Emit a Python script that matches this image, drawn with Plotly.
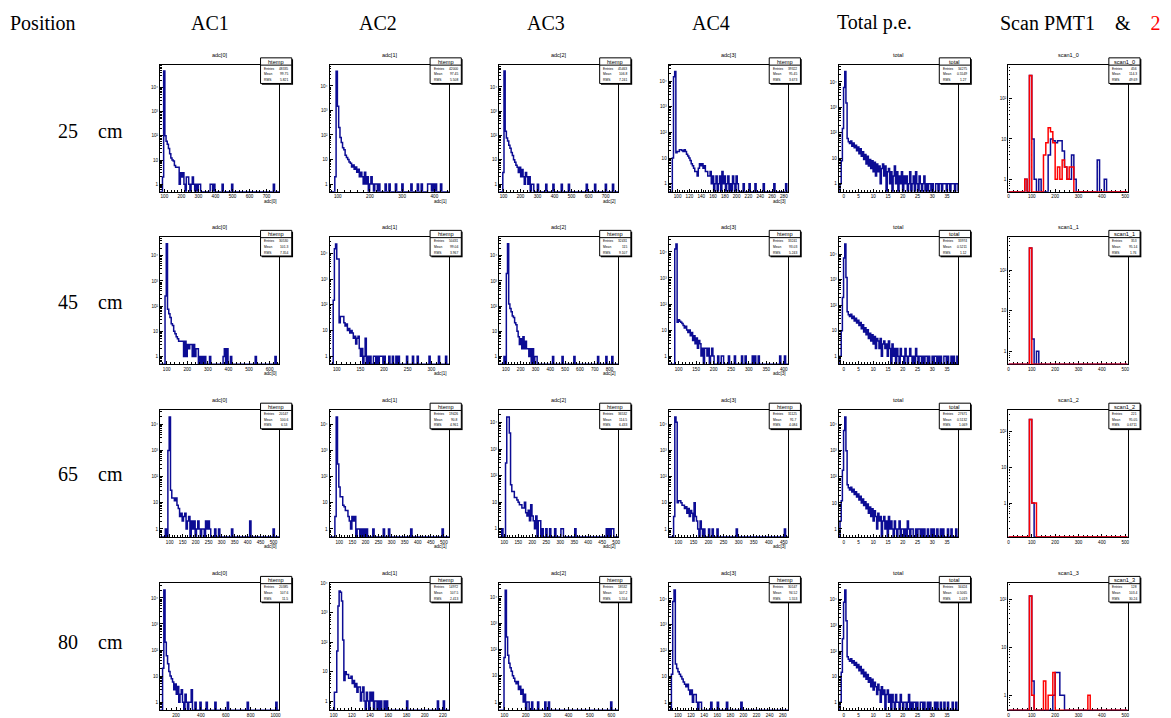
import numpy as np
import plotly.graph_objects as go

# ---------------------------------------------------------------------------
# Histogram contents.  AC panels: dense counts from the panel's head bin,
# followed by isolated single entries in the tail (x position, count).
# ---------------------------------------------------------------------------

# 25 cm
ac1_25_head = [2, 48000, 100, 60, 45, 30, 18, 12, 10, 9, 6, 5, 5, 5, 1, 3, 2, 3, 1, 0, 2, 2, 1, 0, 1, 2, 1, 0, 1, 0, 1, 1]
ac1_25_tail_x = [370, 377, 391, 440, 496, 741]
ac1_25_tail_n = [1, 1, 1, 1, 1, 1]

ac2_25_head = [2, 40000, 1500, 200, 80, 50, 30, 25, 15, 12, 10, 8, 7, 5, 6, 4, 5, 3, 4, 2, 3, 2, 1, 3, 1, 2, 0, 1, 2, 1, 0, 1, 1, 0, 1]
ac2_25_tail_x = [250, 262, 280, 300, 330, 350, 362, 380, 384, 388, 396, 404, 420]
ac2_25_tail_n = [1, 1, 1, 1, 1, 1, 1, 1, 1, 1, 1, 1, 1]

ac3_25_head = [3, 45000, 150, 80, 60, 40, 30, 20, 15, 10, 8, 6, 5, 3, 5, 2, 4, 2, 1, 3, 2, 1, 2, 0, 1, 1]
ac3_25_tail_x = [300, 352, 390, 440, 482, 590, 640, 700, 742]
ac3_25_tail_n = [1, 1, 1, 1, 1, 1, 1, 1, 1]

ac4_25_head = [10, 15000, 24000, 16, 18, 18, 21, 21, 20, 18, 21, 18, 14, 12, 10, 8, 6, 5, 4, 3, 3, 2, 4, 6, 5, 6, 4,
               5, 3, 3, 2, 2, 3, 1, 2, 0, 1, 2, 0, 1, 2, 0, 3, 1, 2, 0, 1, 2, 0, 1, 0, 2, 1, 0, 2, 1]
ac4_25_tail_x = [211, 222, 232, 245, 264, 284]
ac4_25_tail_n = [1, 1, 1, 1, 1, 1]

tot_25 = [0, 1, 8, 150, 6000, 26000, 1500, 60,
          45, 38, 48, 30, 40, 26, 33, 20, 28, 15, 24, 12, 18, 9, 14, 6, 12, 5, 9, 4, 8, 3, 7,
          2, 6, 3, 5, 1, 4, 6, 2, 5, 0, 3, 4, 1, 3, 0, 2, 5, 1, 3, 0, 2, 1, 3, 0, 2, 1, 2, 0, 1, 3,
          0, 1, 2, 0, 3, 1, 0, 2, 1, 0, 1, 2, 0, 1, 0, 1, 1, 0, 1, 0, 0, 1, 1, 0, 1, 1, 0, 1, 1, 1,
          0, 1, 1, 0, 1, 1, 1, 0, 1, 1]

scan_25_pmt1_x = [75, 95, 105, 115, 135, 175, 185, 195, 205, 215, 225, 235, 245, 255, 265, 275, 285, 385, 415]
scan_25_pmt1_n = [1, 376, 10, 1, 1, 4, 10, 9, 8, 9, 9, 5, 2, 1, 1, 4, 1, 3, 1]
scan_25_pmt2_x = [75, 95, 155, 165, 175, 185, 195, 205, 215, 225, 235, 245, 255, 265, 275]
scan_25_pmt2_n = [1, 376, 4, 8, 19, 15, 8, 1, 2, 1, 3, 2, 1, 2, 2]

# 45 cm
ac1_45_head = [0, 250, 30000, 75, 50, 35, 20, 17, 10, 8, 6, 5, 4, 4, 4, 4, 1, 4, 1, 3, 2, 3, 3, 1, 3, 1, 2, 2, 0, 1, 0, 1, 0, 1]
ac1_45_tail_x = [308, 375, 384, 392, 412, 530, 628]
ac1_45_tail_n = [1, 1, 2, 2, 1, 1, 1]

ac2_45_head = [150, 15000, 23000, 6000, 6000, 20, 35, 35, 35, 20, 15, 18, 10, 12, 8, 10, 8, 5, 6, 3, 5, 6, 2, 1, 2, 0, 1, 5, 0, 1]
ac2_45_tail_x = [172, 178, 182, 186, 190, 193, 196, 200, 212, 218, 226, 232, 248, 262, 272, 296, 316, 330]
ac2_45_tail_n = [1, 1, 1, 1, 1, 1, 1, 1, 1, 1, 1, 1, 1, 1, 1, 1, 1, 1]

ac3_45_head = [1, 0, 2000, 30000, 120, 80, 60, 40, 35, 22, 18, 10, 6, 3, 5, 2, 6, 2, 4, 2, 2, 1, 2, 0, 2, 0, 1, 1]
ac3_45_tail_x = [418, 485, 563, 722, 776, 821]
ac3_45_tail_n = [1, 1, 1, 1, 1, 1]

ac4_45_head = [13000, 20000, 20, 25, 22, 20, 18, 15, 12, 14, 10, 8, 10, 6, 8, 4, 6, 3, 5, 2, 4, 3, 1, 2, 0, 2, 2, 1, 2, 0, 1, 2, 1]
ac4_45_tail_x = [212, 222, 228, 245, 262, 280, 290, 310, 318, 330, 390, 405]
ac4_45_tail_n = [1, 1, 1, 1, 1, 1, 1, 1, 1, 1, 1, 1]

tot_45 = [0, 1, 10, 200, 7000, 25000, 1200, 55,
          42, 36, 44, 30, 37, 24, 31, 20, 26, 16, 21, 12, 17, 9, 13, 7, 11, 5, 8, 4, 7, 3, 6,
          2, 5, 4, 2, 5, 1, 3, 4, 2, 3, 1, 4, 2, 0, 3, 1, 2, 0, 2, 1, 0, 2, 1, 1, 0, 2, 1, 0, 1, 2,
          1, 0, 1, 0, 2, 1, 0, 1, 1, 0, 1, 0, 1, 1, 0, 1, 0, 0, 1, 0, 1, 1, 0, 1, 0, 1, 0, 0, 1, 1,
          0, 1, 0, 0, 1, 0, 1, 0, 0, 1]

scan_45_pmt1_x = [95, 105, 125]
scan_45_pmt1_n = [350, 2, 1]
scan_45_pmt2_x = [95]
scan_45_pmt2_n = [350]

# 65 cm
ac1_65_head = [1, 0, 1000, 19000, 30, 15, 15, 12, 15, 8, 6, 3, 4, 2, 3, 4, 1, 2, 3, 0, 2, 1, 2, 0, 1, 2, 1, 0, 1, 1, 0, 2, 1]
ac1_65_tail_x = [250, 256, 275, 292, 340, 412, 500]
ac1_65_tail_n = [2, 1, 1, 1, 1, 2, 1]

ac2_65_head = [3, 19000, 300, 40, 17, 17, 8, 7, 5, 5, 3, 2, 1, 3, 2, 3, 0, 1, 1, 0, 1, 0, 1]
ac2_65_tail_x = [203, 230, 268, 292, 376, 496]
ac2_65_tail_n = [1, 1, 1, 1, 1, 1]

ac3_65_head = [1, 0, 0, 300, 16000, 16000, 4000, 45, 25, 25, 15, 15, 12, 10, 8, 8, 6, 6, 10, 4, 3, 5, 2, 8, 3, 2, 1, 3, 0, 2, 1, 0, 1]
ac3_65_tail_x = [230, 251, 262, 281, 305, 311, 352, 465, 475, 484, 489]
ac3_65_tail_n = [1, 1, 1, 1, 1, 1, 1, 1, 1, 1, 1]

ac4_65_head = [3, 19000, 12000, 10, 12, 12, 10, 8, 8, 6, 7, 4, 6, 3, 5, 4, 2, 10, 3, 2, 1, 0, 2, 1, 0, 1]
ac4_65_tail_x = [200, 214, 231, 292, 453]
ac4_65_tail_n = [1, 1, 1, 1, 1]

tot_65 = [0, 2, 12, 180, 6000, 20000, 1000, 50,
          38, 31, 40, 26, 33, 21, 27, 17, 22, 13, 18, 10, 14, 8, 11, 6, 9, 4, 7, 3, 6, 2, 5,
          3, 1, 4, 2, 3, 0, 2, 3, 1, 2, 0, 3, 1, 2, 1, 0, 2, 1, 0, 1, 2, 0, 1, 1, 0, 1, 0, 2, 1, 0,
          1, 1, 0, 0, 1, 0, 1, 1, 0, 1, 0, 1, 0, 0, 1, 0, 0, 1, 0, 1, 0, 0, 1, 0, 0, 1, 0, 1, 0, 0,
          0, 1, 0, 0, 1, 0, 0, 0, 1, 0]

scan_65_pmt1_x = [95, 105]
scan_65_pmt1_n = [220, 1]
scan_65_pmt2_x = [95, 105, 115]
scan_65_pmt2_n = [220, 1, 1]

# 80 cm
ac1_80_head = [20, 20000, 200, 60, 30, 15, 10, 8, 6, 3, 5, 2, 4, 1, 2, 3, 1, 0, 2, 1, 0, 1, 1, 2]
ac1_80_tail_x = [330, 360, 400, 450, 520, 620, 780, 1010]
ac1_80_tail_n = [1, 1, 1, 1, 1, 1, 1, 1]

ac2_80_head = [2, 2, 50, 1700, 5500, 5000, 2500, 120, 5, 10, 8, 8, 6, 6, 7, 4, 5, 3, 4, 2, 3, 3, 1, 2, 3, 1, 0,
               2, 1, 0, 2, 1, 2, 0, 1, 1, 0, 1, 0, 1, 0, 0, 1, 0, 1]
ac2_80_tail_x = [181, 214.6, 221]
ac2_80_tail_n = [1, 1, 1]

ac3_80_head = [50, 18000, 300, 60, 30, 20, 15, 10, 8, 6, 5, 6, 3, 4, 2, 3, 1, 2, 0, 1, 1]
ac3_80_tail_x = [230, 260, 290, 310, 600]
ac3_80_tail_n = [1, 1, 1, 1, 1]

ac4_80_head = [12, 8000, 22000, 30, 20, 15, 12, 10, 8, 6, 5, 4, 5, 3, 2, 3, 1, 2, 2, 1, 0, 1, 1]
ac4_80_tail_x = [150, 160, 175, 196]
ac4_80_tail_n = [1, 1, 1, 1]

tot_80 = [0, 1, 15, 300, 8000, 24000, 1500, 60,
          48, 40, 50, 34, 42, 28, 36, 22, 30, 17, 25, 13, 19, 10, 15, 8, 12, 6, 9, 4, 8, 3, 6,
          4, 2, 5, 3, 1, 4, 2, 3, 0, 2, 3, 1, 2, 0, 2, 1, 0, 2, 1, 1, 0, 2, 1, 0, 1, 1, 0, 1, 2, 0,
          1, 0, 1, 1, 0, 1, 0, 0, 1, 1, 0, 1, 0, 0, 1, 0, 1, 0, 0, 0, 1, 0, 1, 0, 0, 1, 0, 0, 1, 0,
          0, 1, 0, 0, 0, 1, 0, 0, 1, 0]

scan_80_pmt1_x = [95, 105, 195, 205, 215, 225, 235]
scan_80_pmt1_n = [117, 2, 1, 3, 3, 1, 1]
scan_80_pmt2_x = [95, 105, 155, 175, 185, 195, 345]
scan_80_pmt2_n = [117, 1, 2, 1, 1, 3, 1]

positions = ["25\u3000cm", "45\u3000cm", "65\u3000cm", "80\u3000cm"]
columns = ["AC1", "AC2", "AC3", "AC4", "Total p.e.", "Scan PMT1\u3000&\u3000<span style='color:#ff0000'>2</span>"]

# ---------------------------------------------------------------------------
# Binning / axis settings for each pad: (lo, hi, bin width, head start, major tick step)
# ---------------------------------------------------------------------------
AC_BINNING = {
    (0, 0): (75, 775, 7, 89, 100),   (0, 1): (75, 445, 4, 91, 100),
    (0, 2): (75, 775, 7, 96, 100),   (0, 3): (85, 287, 2, 91, 20),
    (1, 0): (68, 647, 6, 86, 100),   (1, 1): (85, 337, 2.5, 92.5, 50),
    (1, 2): (55, 860, 8, 87, 100),   (1, 3): (72, 412, 3.4, 89, 50),
    (2, 0): (63, 522, 5, 83, 50),    (2, 1): (63, 519, 5, 83, 50),
    (2, 2): (82, 508, 4.5, 91, 50),  (2, 3): (68, 464, 4, 84, 50),
    (3, 0): (72, 1030, 10, 92, 200), (3, 1): (95.6, 226.5, 1.3, 100.8, 20),
    (3, 2): (76, 633, 5.6, 98.4, 100), (3, 3): (86, 268, 2, 90, 20),
}
TOT_BINNING = (-1.7, 38.7, 0.4, -1.7, 5)
SCAN_BINNING = (0, 510, 10, 0, 100)

AC_DATA = {
    0: [(ac1_25_head, ac1_25_tail_x, ac1_25_tail_n), (ac2_25_head, ac2_25_tail_x, ac2_25_tail_n),
        (ac3_25_head, ac3_25_tail_x, ac3_25_tail_n), (ac4_25_head, ac4_25_tail_x, ac4_25_tail_n)],
    1: [(ac1_45_head, ac1_45_tail_x, ac1_45_tail_n), (ac2_45_head, ac2_45_tail_x, ac2_45_tail_n),
        (ac3_45_head, ac3_45_tail_x, ac3_45_tail_n), (ac4_45_head, ac4_45_tail_x, ac4_45_tail_n)],
    2: [(ac1_65_head, ac1_65_tail_x, ac1_65_tail_n), (ac2_65_head, ac2_65_tail_x, ac2_65_tail_n),
        (ac3_65_head, ac3_65_tail_x, ac3_65_tail_n), (ac4_65_head, ac4_65_tail_x, ac4_65_tail_n)],
    3: [(ac1_80_head, ac1_80_tail_x, ac1_80_tail_n), (ac2_80_head, ac2_80_tail_x, ac2_80_tail_n),
        (ac3_80_head, ac3_80_tail_x, ac3_80_tail_n), (ac4_80_head, ac4_80_tail_x, ac4_80_tail_n)],
}
TOT_DATA = [tot_25, tot_45, tot_65, tot_80]
SCAN_DATA = [
    ((scan_25_pmt1_x, scan_25_pmt1_n), (scan_25_pmt2_x, scan_25_pmt2_n)),
    ((scan_45_pmt1_x, scan_45_pmt1_n), (scan_45_pmt2_x, scan_45_pmt2_n)),
    ((scan_65_pmt1_x, scan_65_pmt1_n), (scan_65_pmt2_x, scan_65_pmt2_n)),
    ((scan_80_pmt1_x, scan_80_pmt1_n), (scan_80_pmt2_x, scan_80_pmt2_n)),
]
SCAN_YLO = [-0.31, -0.32, -0.95, -0.31]

# ---------------------------------------------------------------------------
# Page geometry (pixels)
# ---------------------------------------------------------------------------
W, H = 1171, 718
COL_X = [159.5, 329.5, 499.5, 669.5, 840.0, 1010.0]
ROW_Y = [62.7, 235.7, 409.0, 582.7]
FW, FH = 119.5, 127.5
BLUE = "#0c0c94"
RED = "#ff0000"
SANS = "Liberation Sans, Arial, sans-serif"
SERIF = "Liberation Serif, Times New Roman, serif"


def px(x):
    return x / W


def py(y):
    return 1 - y / H


def build_hist(lo, hi, w, start, head, tail_x=(), tail_n=()):
    nb = int(np.ceil((hi - lo) / w - 1e-9))
    counts = np.zeros(nb)
    i0 = int(round((start - lo) / w))
    for k, c in enumerate(head):
        if 0 <= i0 + k < nb:
            counts[i0 + k] += c
    for x, n in zip(tail_x, tail_n):
        j = int((x - lo) // w)
        if 0 <= j < nb:
            counts[j] += n
    edges = lo + w * np.arange(nb + 1)
    return edges, counts


def step_xy(edges, counts, floor):
    y = np.where(counts > 0, counts, floor)
    xs = np.concatenate([[edges[0]], edges[:-1], [edges[-1], edges[-1]]])
    ys = np.concatenate([[floor], y, [y[-1], floor]])
    return xs, ys


def stats(edges, counts):
    c = 0.5 * (edges[:-1] + edges[1:])
    n = counts.sum()
    m = (c * counts).sum() / n
    r = np.sqrt(((c - m) ** 2 * counts).sum() / n)
    return int(n), m, r


fig = go.Figure()
shapes, annos = [], []
layout_axes = {}

LOG_TEXT = {1: "1", 10: "10", 100: "10\u00b2", 1000: "10\u00b3", 10000: "10\u2074", 100000: "10\u2075"}

idx = 0
for r in range(4):
    for c in range(6):
        idx += 1
        xa = "x" if idx == 1 else f"x{idx}"
        ya = "y" if idx == 1 else f"y{idx}"
        left, top = COL_X[c], ROW_Y[r]

        series = []
        if c < 4:
            lo, hi, w, start, step = AC_BINNING[(r, c)]
            head, tx, tn = AC_DATA[r][c]
            e, k = build_hist(lo, hi, w, start, head, tx, tn)
            series.append((e, k, BLUE))
            title = f"adc[{c}]"
            box_title = "htemp"
            ylo = -0.31
        elif c == 4:
            lo, hi, w, start, step = TOT_BINNING
            e, k = build_hist(lo, hi, w, start, TOT_DATA[r])
            series.append((e, k, BLUE))
            title = "total"
            box_title = "total"
            ylo = -0.31
        else:
            lo, hi, w, start, step = SCAN_BINNING
            (bx, bn), (rx, rn) = SCAN_DATA[r]
            e1, k1 = build_hist(lo, hi, w, start, [], bx, bn)
            e2, k2 = build_hist(lo, hi, w, start, [], rx, rn)
            series.append((e1, k1, BLUE))
            series.append((e2, k2, RED))
            title = f"scan1_{r}"
            box_title = f"scan1_{r}"
            ylo = SCAN_YLO[r]

        peak = max(s[1].max() for s in series)
        yhi = np.log10(peak) + 0.27
        floor = 10 ** ylo

        for e, k, col in series:
            xs, ys = step_xy(e, k, floor)
            fig.add_trace(go.Scatter(x=xs, y=ys, mode="lines", line=dict(color=col, width=1.5, shape="hv"),
                                     xaxis=xa, yaxis=ya, showlegend=False, hoverinfo="skip"))

        majors = [v for v in LOG_TEXT if ylo <= np.log10(v) <= yhi]
        minors = [m * 10 ** d for d in range(-1, 6) for m in range(2, 10) if ylo <= np.log10(m * 10 ** d) <= yhi]

        layer = "below traces" if c == 5 else "above traces"
        layout_axes["xaxis" if idx == 1 else f"xaxis{idx}"] = dict(
            domain=[px(left), px(left + FW)], range=[lo, hi], anchor=ya,
            dtick=step, tick0=0, ticks="inside", ticklen=3, tickwidth=0.8, tickcolor="black",
            minor=dict(ticks="inside", ticklen=1.6, dtick=step / 5 if step % 5 == 0 else step / 4, tickcolor="black", tickwidth=0.7),
            showline=True, linecolor="black", linewidth=1.3, mirror=True, showgrid=False, zeroline=False,
            tickfont=dict(size=4.6, family=SANS, color="black"), tickangle=0, layer=layer, fixedrange=True)
        layout_axes["yaxis" if idx == 1 else f"yaxis{idx}"] = dict(
            domain=[py(top + FH), py(top)], type="log", range=[ylo, yhi], anchor=xa,
            tickvals=majors, ticktext=[LOG_TEXT[v] for v in majors],
            ticks="inside", ticklen=3, tickwidth=0.8, tickcolor="black",
            minor=dict(ticks="inside", ticklen=1.6, tickvals=minors, tickcolor="black", tickwidth=0.7),
            showline=True, linecolor="black", linewidth=1.3, mirror=True, showgrid=False, zeroline=False,
            tickfont=dict(size=4.6, family=SANS, color="black"), layer=layer, fixedrange=True)

        # pad title
        annos.append(dict(x=px(left + FW / 2), y=py(top - 10), xref="paper", yref="paper", text=title,
                          showarrow=False, font=dict(size=5.5, family=SANS, color="black"),
                          xanchor="center", yanchor="middle"))
        # x-axis title for the ADC pads (the bottom row's titles fall below the page)
        if c < 4 and r < 3:
            annos.append(dict(x=px(left + FW), y=py(top + FH + 9.5), xref="paper", yref="paper", text=title,
                              showarrow=False, font=dict(size=4.6, family=SANS, color="black"),
                              xanchor="right", yanchor="middle"))

        # statistics box
        n_ent, mean, rms = stats(series[0][0], series[0][1])
        bl, br = left + 100.7, left + 132.0
        bt, bb = top - 6.7, top + 19.0
        shapes.append(dict(type="rect", xref="paper", yref="paper", x0=px(bl + 1.3), x1=px(br + 1.3),
                           y0=py(bb + 1.3), y1=py(bt + 1.3), fillcolor="black", line=dict(width=0)))
        shapes.append(dict(type="rect", xref="paper", yref="paper", x0=px(bl), x1=px(br),
                           y0=py(bb), y1=py(bt), fillcolor="white", line=dict(color="black", width=1)))
        shapes.append(dict(type="line", xref="paper", yref="paper", x0=px(bl), x1=px(br),
                           y0=py(bt + 7.3), y1=py(bt + 7.3), line=dict(color="black", width=1)))
        annos.append(dict(x=px((bl + br) / 2), y=py(bt + 3.7), xref="paper", yref="paper", text=box_title,
                          showarrow=False, font=dict(size=5.6, family=SANS, color="black"),
                          xanchor="center", yanchor="middle"))
        rows = [("Entries", f"{n_ent:d}"), ("Mean", f"{mean:.4g}"), ("RMS", f"{rms:.4g}")]
        for j, (lab, val) in enumerate(rows):
            yy = bt + 11.0 + j * 5.6
            annos.append(dict(x=px(bl + 1.5), y=py(yy), xref="paper", yref="paper", text=lab, showarrow=False,
                              font=dict(size=3.3, family=SANS, color="black"), xanchor="left", yanchor="middle"))
            annos.append(dict(x=px(br - 1.5), y=py(yy), xref="paper", yref="paper", text=val, showarrow=False,
                              font=dict(size=3.3, family=SANS, color="black"), xanchor="right", yanchor="middle"))

# column headers and row labels
HEADER_X = [42, 210, 378, 546, 712, 876, 1082]
for hx, txt in zip(HEADER_X, ["Position"] + columns):
    annos.append(dict(x=px(hx), y=py(21), xref="paper", yref="paper", text=txt, showarrow=False,
                      font=dict(size=20, family=SERIF, color="black"), xanchor="center", yanchor="middle"))
ROW_LABEL_Y = [129, 301, 473, 642]
for ry, txt in zip(ROW_LABEL_Y, positions):
    annos.append(dict(x=px(90), y=py(ry), xref="paper", yref="paper", text=txt, showarrow=False,
                      font=dict(size=20, family=SERIF, color="black"), xanchor="center", yanchor="middle"))

fig.update_layout(width=W, height=H, margin=dict(l=0, r=0, t=0, b=0), paper_bgcolor="white",
                  plot_bgcolor="white", showlegend=False, shapes=shapes, annotations=annos, **layout_axes)
fig.write_html("out.html", config={"displayModeBar": False})
